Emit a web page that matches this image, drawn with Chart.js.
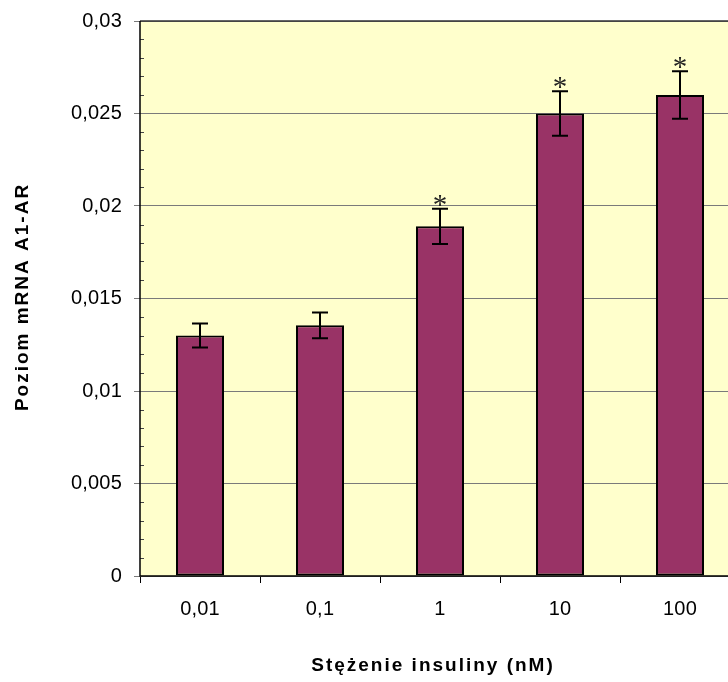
<!DOCTYPE html>
<html>
<head>
<meta charset="utf-8">
<title>Poziom mRNA A1-AR</title>
<script src="https://cdn.jsdelivr.net/npm/chart.js@4.4.1/dist/chart.umd.min.js"></script>
<style>
  html, body { margin: 0; padding: 0; overflow: hidden; background: #fff; }
</style>
</head>
<body>
<canvas id="myChart" width="760" height="682"></canvas>
<script>
// data
const categories = ['0,01', '0,1', '1', '10', '100'];
const means = [0.0130, 0.01355, 0.0189, 0.0250, 0.0260];
const errors = [0.00065, 0.0007, 0.00095, 0.0012, 0.00128];
const marks = ['', '', '*', '*', '*'];
const yTickValues = [0, 0.005, 0.01, 0.015, 0.02, 0.025, 0.03];
const yTickLabels = ['0', '0,005', '0,01', '0,015', '0,02', '0,025', '0,03'];
const yMinorStep = 0.001;
const xTitle = 'Stężenie insuliny (nM)';
const yTitle = 'Poziom mRNA A1-AR';

const sans = '"Liberation Sans", Arial, sans-serif';

// plot background, border, minor ticks, error bars, asterisks and axis titles
const extras = {
  id: 'extras',
  beforeDraw(chart) {
    const a = chart.chartArea, ctx = chart.ctx;
    ctx.save();
    ctx.fillStyle = '#FFFFCC';
    ctx.fillRect(a.left, a.top, a.right - a.left, a.bottom - a.top);
    ctx.restore();
    ctx.letterSpacing = '0.2px';
  },
  afterDatasetsDraw(chart) {
    const a = chart.chartArea, ctx = chart.ctx;
    const y = chart.scales.y;
    const meta = chart.getDatasetMeta(0);
    ctx.save();
    // top border
    ctx.strokeStyle = '#333';
    ctx.lineWidth = 1.5;
    ctx.beginPath();
    ctx.moveTo(a.left, a.top);
    ctx.lineTo(a.right, a.top);
    ctx.stroke();
    // minor ticks pointing inwards
    ctx.strokeStyle = '#444';
    ctx.lineWidth = 1;
    for (let i = 1; i < 30; i++) {
      if (i % 5 === 0) continue;
      const py = Math.round(y.getPixelForValue(i * yMinorStep)) + 0.5;
      ctx.beginPath();
      ctx.moveTo(a.left, py);
      ctx.lineTo(a.left + 4, py);
      ctx.stroke();
    }
    // error bars
    ctx.strokeStyle = '#000';
    ctx.lineWidth = 2;
    meta.data.forEach((bar, i) => {
      const x = bar.x;
      const top = y.getPixelForValue(means[i] + errors[i]);
      const bot = y.getPixelForValue(means[i] - errors[i]);
      ctx.beginPath();
      ctx.moveTo(x, top); ctx.lineTo(x, bot);
      ctx.moveTo(x - 8, top); ctx.lineTo(x + 8, top);
      ctx.moveTo(x - 8, bot); ctx.lineTo(x + 8, bot);
      ctx.stroke();
      if (marks[i]) {
        ctx.fillStyle = '#222';
        ctx.letterSpacing = '0px';
        ctx.font = '29px "Liberation Serif", "DejaVu Serif", serif';
        ctx.textAlign = 'center';
        ctx.textBaseline = 'alphabetic';
        ctx.fillText(marks[i], x, top + 5);
      }
    });
    // left axis line
    ctx.strokeStyle = '#000';
    ctx.lineWidth = 1.5;
    ctx.beginPath();
    ctx.moveTo(a.left, a.top);
    ctx.lineTo(a.left, a.bottom);
    ctx.lineTo(a.right, a.bottom);
    ctx.stroke();
    ctx.restore();
  },
  afterDraw(chart) {
    const ctx = chart.ctx;
    ctx.save();
    ctx.fillStyle = '#000';
    ctx.font = 'bold 19px ' + sans;
    ctx.letterSpacing = '2px';
    ctx.textAlign = 'center';
    ctx.textBaseline = 'middle';
    ctx.fillText(xTitle, 433, 666);
    ctx.translate(23, 297);
    ctx.rotate(-Math.PI / 2);
    ctx.fillText(yTitle, 0, 0);
    ctx.restore();
  }
};

const ctx = document.getElementById('myChart');
const myChart = new Chart(ctx, {
  type: 'bar',
  data: {
    labels: categories,
    datasets: [{
      data: means,
      backgroundColor: '#993366',
      borderColor: '#000',
      borderWidth: 2,
      borderSkipped: false,
      barPercentage: 0.4,
      categoryPercentage: 1.0
    }]
  },
  options: {
    responsive: false,
    animation: false,
    layout: { padding: { top: 21, right: 20, left: 0, bottom: 0 } },
    plugins: { legend: { display: false }, tooltip: { enabled: false } },
    scales: {
      x: {
        afterFit(scale) { scale.height = 106; scale.paddingLeft = 0; scale.paddingRight = 0; },
        grid: { offset: true, drawOnChartArea: false, drawTicks: true, tickLength: 7, color: '#000' },
        border: { display: false },
        ticks: { color: '#000', padding: 14, font: { family: sans, size: 20 } }
      },
      y: {
        min: 0,
        max: 0.03,
        afterFit(scale) { scale.width = 140; scale.paddingTop = 0; scale.paddingBottom = 0; },
        afterBuildTicks(scale) { scale.ticks = yTickValues.map(v => ({ value: v })); },
        grid: { color: '#7a7a7a', lineWidth: 1, tickLength: 6 },
        border: { display: false },
        ticks: {
          color: '#000',
          padding: 12,
          font: { family: sans, size: 20 },
          callback: (v, i) => yTickLabels[i]
        }
      }
    }
  },
  plugins: [extras]
});
</script>
</body>
</html>
